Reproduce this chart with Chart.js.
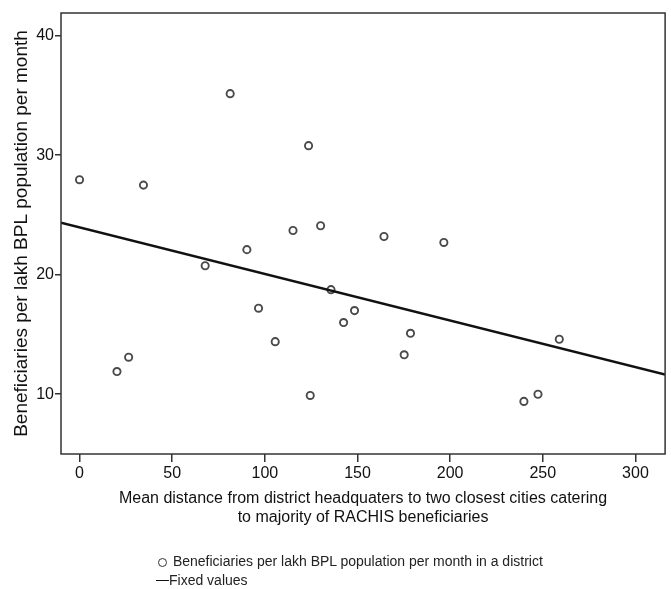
<!DOCTYPE html>
<html>
<head>
<meta charset="utf-8">
<script src="https://cdn.jsdelivr.net/npm/chart.js@4/dist/chart.umd.min.js"></script>
<style>
  body { margin: 0; background: #fff; }
  #wrap { position: relative; width: 671px; height: 589px; }
  #legend { position: absolute; left: 155px; top: 551px; font: 14px "Liberation Sans", Arial, sans-serif; color: #222; line-height: 20px; }
  #legend .sym { display: inline-block; width: 14px; text-align: center; }
  .ring { display: inline-block; width: 7px; height: 7px; border: 1.5px solid #333; border-radius: 50%; vertical-align: -1px; }
  .dash { display: inline-block; width: 13px; border-top: 1.5px solid #111; vertical-align: 4px; }
</style>
</head>
<body>
<div id="wrap">
  <canvas id="chart" width="671" height="589"></canvas>
  <div id="legend">
    <div><span class="sym"><span class="ring"></span></span> Beneficiaries per lakh BPL population per month in a district</div>
    <div style="margin-top:-1px"><span class="sym"><span class="dash"></span></span>Fixed values</div>
  </div>
</div>
<script>
// distance (x) and beneficiaries (y) per district
const distance = [0, 34.5, 20.2, 26.5, 67.8, 81.3, 90.3, 96.6, 105.6, 115.2, 123.6, 124.5, 130.1, 135.7,
  142.5, 148.4, 164.3, 175.2, 178.6, 196.6, 239.8, 247.4, 258.9];
const beneficiaries = [27.95, 27.5, 11.9, 13.1, 20.75, 35.15, 22.1, 17.2, 14.4, 23.7, 30.8, 9.9, 24.1, 18.75,
  16.0, 17.0, 23.2, 13.3, 15.1, 22.7, 9.4, 10.0, 14.6];
// fitted line end points
const fitX = [-10, 316];
const fitY = [24.35, 11.65];
const xTicks = [0, 50, 100, 150, 200, 250, 300];
const yTicks = [10, 20, 30, 40];

const points = distance.map((d, i) => ({ x: d, y: beneficiaries[i] }));
const fitLine = fitX.map((d, i) => ({ x: d, y: fitY[i] }));

const boxPlugin = {
  id: 'box',
  afterDraw(chart) {
    const a = chart.chartArea, c = chart.ctx;
    c.save();
    c.strokeStyle = '#333';
    c.lineWidth = 1.5;
    c.strokeRect(a.left, a.top, a.right - a.left, a.bottom - a.top);
    c.restore();
  }
};

const font = "'Liberation Sans', Arial, sans-serif";

new Chart(document.getElementById('chart'), {
  type: 'scatter',
  data: {
    datasets: [
      {
        label: 'Fixed values',
        type: 'line',
        data: fitLine,
        borderColor: '#111',
        borderWidth: 2.5,
        pointRadius: 0,
        fill: false
      },
      {
        label: 'Beneficiaries per lakh BPL population per month in a district',
        data: points,
        pointRadius: 3.6,
        pointBorderWidth: 1.9,
        pointBorderColor: '#4a4a4a',
        pointBackgroundColor: '#fff'
      }
    ]
  },
  options: {
    responsive: false,
    animation: false,
    layout: { padding: { top: 13, right: 5, bottom: 62, left: 0 } },
    plugins: { legend: { display: false }, tooltip: { enabled: false } },
    scales: {
      x: {
        type: 'linear',
        min: -10,
        max: 316,
        afterBuildTicks: s => { s.ticks = xTicks.map(v => ({ value: v })); },
        afterFit: s => { s.height = 73; },
        grid: { drawOnChartArea: false, drawTicks: true, tickLength: 8, color: '#333', lineWidth: 1.5 },
        border: { display: false },
        ticks: { color: '#111', font: { family: font, size: 16 }, padding: 2 },
        title: {
          display: true,
          text: ['Mean distance from district headquaters to two closest cities catering', 'to majority of RACHIS beneficiaries'],
          color: '#111',
          font: { family: font, size: 16 },
          padding: { top: 0, bottom: 0 }
        }
      },
      y: {
        min: 5,
        max: 41.9,
        afterBuildTicks: s => { s.ticks = yTicks.map(v => ({ value: v })); },
        afterFit: s => { s.width = 61; },
        grid: { drawOnChartArea: false, drawTicks: true, tickLength: 6, color: '#333', lineWidth: 1.5 },
        border: { display: false },
        ticks: { color: '#111', font: { family: font, size: 16 }, padding: 1 },
        title: {
          display: true,
          text: 'Beneficiaries per lakh BPL population per month',
          color: '#111',
          font: { family: font, size: 19 },
          padding: { top: 10, bottom: 0 }
        }
      }
    }
  },
  plugins: [boxPlugin]
});
</script>
</body>
</html>
